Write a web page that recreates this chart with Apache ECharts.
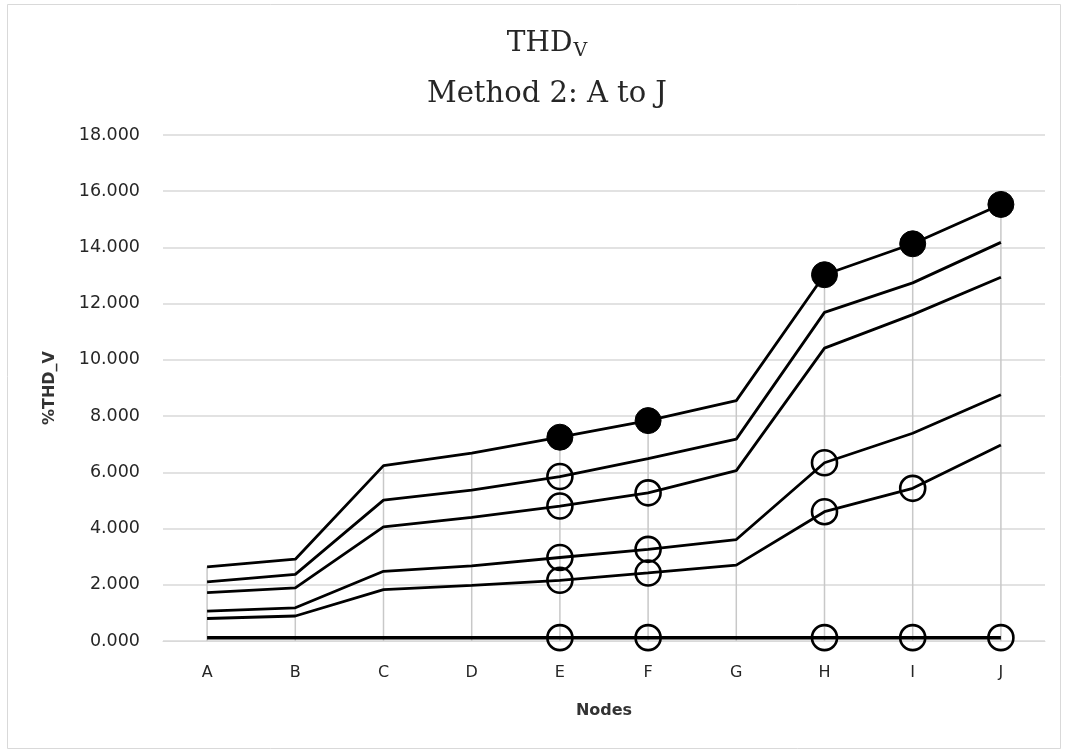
<!DOCTYPE html>
<html>
<head>
<meta charset="utf-8">
<script src="https://cdn.jsdelivr.net/npm/echarts@6/dist/echarts.min.js"></script>
<style>
html,body{margin:0;padding:0;background:#fff;}
#chart{width:1067px;height:752px;}
</style>
</head>
<body>
<div id="chart"></div>
<script>
// ---- data ----
var nodes = ['A','B','C','D','E','F','G','H','I','J'];
var series1 = [2.64, 2.91, 6.24, 6.68, 7.25, 7.84, 8.55, 13.03, 14.13, 15.53];
var series2 = [2.10, 2.37, 5.01, 5.37, 5.85, 6.49, 7.18, 11.69, 12.74, 14.18];
var series3 = [1.72, 1.89, 4.06, 4.40, 4.80, 5.27, 6.06, 10.42, 11.61, 12.94];
var series4 = [1.06, 1.18, 2.48, 2.67, 2.97, 3.26, 3.61, 6.34, 7.39, 8.76];
var series5 = [0.80, 0.89, 1.83, 1.98, 2.16, 2.42, 2.70, 4.60, 5.43, 6.97];
var series6 = [0.12, 0.12, 0.12, 0.12, 0.12, 0.12, 0.12, 0.12, 0.12, 0.12];
// nodes that carry a marker on each series
var marked1 = ['E','F','H','I','J'];
var marked2 = ['E'];
var marked3 = ['E','F'];
var marked4 = ['E','F','H'];
var marked5 = ['E','F','H','I'];
var marked6 = ['E','F','H','I','J'];
var yTicks = {min: 0, max: 18, step: 2};

var chart = echarts.init(document.getElementById('chart'), null, {renderer: 'canvas'});

function buildData(values, marked, filled) {
  return values.map(function (v, i) {
    if (marked.indexOf(nodes[i]) >= 0) {
      return {
        value: v,
        symbol: 'circle',
        symbolSize: filled ? 26 : 25,
        itemStyle: filled
          ? {color: '#000', borderColor: '#000', borderWidth: 1}
          : {color: 'rgba(0,0,0,0)', borderColor: '#000', borderWidth: 2.6}
      };
    }
    return {value: v, symbol: 'none'};
  });
}

function lineSeries(name, values, marked, filled, width) {
  return {
    name: name,
    type: 'line',
    data: buildData(values, marked, filled),
    showSymbol: true,
    showAllSymbol: true,
    symbol: 'none',
    lineStyle: {color: '#000', width: width},
    itemStyle: {color: '#000'},
    z: 3,
    silent: true,
    animation: false
  };
}

var axisFont = 'DejaVu Sans';

var option = {
  backgroundColor: '#fff',
  animation: false,
  title: {
    left: 542,
    textAlign: 'center',
    top: 22,
    text: 'THD{v|V}',
    textStyle: {
      fontFamily: 'DejaVu Serif',
      fontSize: 28,
      fontWeight: 'normal',
      color: '#262626',
      lineHeight: 34,
      rich: {
        v: {fontFamily: 'DejaVu Serif', fontSize: 19, color: '#262626', lineHeight: 34, verticalAlign: 'bottom', padding: [0, 0, 0, 1]}
      }
    },
    subtext: 'Method 2: A to J',
    subtextStyle: {
      fontFamily: 'DejaVu Serif',
      fontSize: 29,
      color: '#262626',
      lineHeight: 34
    },
    itemGap: 16
  },
  graphic: [{
    type: 'rect',
    shape: {x: 7.5, y: 4.5, width: 1053, height: 744},
    style: {fill: 'none', stroke: '#d9d9d9', lineWidth: 1},
    silent: true
  }],
  grid: {left: 163, right: 22, top: 135, bottom: 111, containLabel: false},
  xAxis: {
    type: 'category',
    data: nodes,
    boundaryGap: true,
    name: 'Nodes',
    nameLocation: 'middle',
    nameGap: 62,
    nameTextStyle: {fontFamily: axisFont, fontSize: 16, fontWeight: 'bold', color: '#333'},
    axisLine: {show: true, lineStyle: {color: '#d9d9d9', width: 1}},
    axisTick: {show: false},
    axisLabel: {fontFamily: axisFont, fontSize: 16, color: '#262626', margin: 24},
    splitLine: {show: false}
  },
  yAxis: {
    type: 'value',
    min: yTicks.min,
    max: yTicks.max,
    interval: yTicks.step,
    name: '%THD_V',
    nameLocation: 'middle',
    nameGap: 105,
    nameRotate: 90,
    nameTextStyle: {fontFamily: axisFont, fontSize: 16, fontWeight: 'bold', color: '#333'},
    axisLine: {show: false},
    axisTick: {show: false},
    axisLabel: {
      fontFamily: axisFont, fontSize: 17.5, color: '#262626', margin: 23,
      formatter: function (v) { return v.toFixed(3); }
    },
    splitLine: {show: true, lineStyle: {color: '#d9d9d9', width: 1.5}}
  },
  series: [
    {
      name: 'Drop lines',
      type: 'bar',
      data: series1,
      barWidth: 1.5,
      itemStyle: {color: '#c8c8c8'},
      z: 1,
      silent: true
    },
    lineSeries('Series 6', series6, marked6, false, 3.5),
    lineSeries('Series 5', series5, marked5, false, 2.8),
    lineSeries('Series 4', series4, marked4, false, 2.8),
    lineSeries('Series 3', series3, marked3, false, 2.8),
    lineSeries('Series 2', series2, marked2, false, 2.8),
    lineSeries('Series 1', series1, marked1, true, 2.8)
  ]
};
chart.setOption(option);
</script>
</body>
</html>
